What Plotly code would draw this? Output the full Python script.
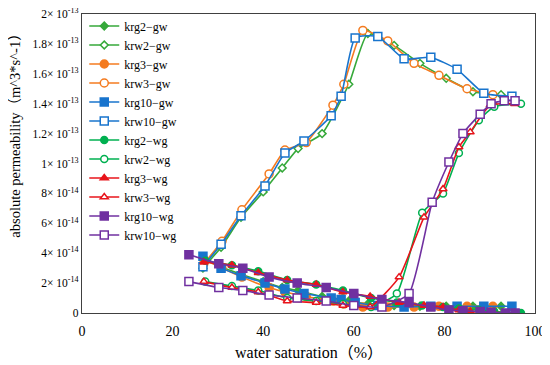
import plotly.graph_objects as go

# ---- data (water saturation %, permeability in units of 1e-13 m^3/s) ----
x_krg2_gw = [26.7, 30.7, 35.1, 40.0, 44.2, 47.7, 53.0, 58.9, 63.1, 68.9, 74.6, 80.4, 86.3, 92.5]
y_krg2_gw = [0.37, 0.31, 0.26, 0.21, 0.17, 0.15, 0.11, 0.08, 0.06, 0.05, 0.045, 0.045, 0.045, 0.045]
x_krw2_gw = [26.7, 30.7, 35.1, 40.0, 44.2, 47.7, 53.0, 58.9, 63.1, 68.9, 74.6, 80.4, 86.3, 92.5]
y_krw2_gw = [0.30, 0.44, 0.64, 0.81, 0.97, 1.10, 1.20, 1.53, 1.87, 1.79, 1.67, 1.57, 1.48, 1.46]

x_krg3_gw = [26.9, 30.9, 35.3, 41.3, 44.8, 49.5, 55.4, 57.8, 62.0, 67.5, 73.3, 78.8, 85.0, 90.7]
y_krg3_gw = [0.36, 0.30, 0.24, 0.17, 0.14, 0.11, 0.08, 0.06, 0.04, 0.04, 0.04, 0.045, 0.045, 0.045]
x_krw3_gw = [26.9, 30.9, 35.3, 41.3, 44.8, 49.5, 55.4, 57.8, 62.0, 67.5, 73.3, 78.8, 85.0, 90.7]
y_krw3_gw = [0.33, 0.48, 0.69, 0.93, 1.09, 1.14, 1.39, 1.53, 1.89, 1.82, 1.67, 1.59, 1.50, 1.46]

x_krg10_gw = [26.7, 30.7, 35.1, 40.4, 44.8, 49.0, 55.0, 57.2, 60.3, 65.3, 71.1, 77.0, 82.8, 88.7, 94.9]
y_krg10_gw = [0.38, 0.30, 0.25, 0.20, 0.16, 0.13, 0.10, 0.09, 0.07, 0.05, 0.04, 0.045, 0.045, 0.045, 0.045]
x_krw10_gw = [26.7, 30.7, 35.1, 40.4, 44.8, 49.0, 55.0, 57.2, 60.3, 65.3, 71.1, 77.0, 82.8, 88.7, 94.9]
y_krw10_gw = [0.31, 0.46, 0.65, 0.85, 1.07, 1.15, 1.32, 1.45, 1.84, 1.85, 1.70, 1.71, 1.63, 1.47, 1.45]

x_krg2_wg = [27.2, 33.1, 38.9, 45.3, 51.7, 57.6, 63.8, 69.5, 75.1, 79.7, 83.2, 87.6, 91.0, 96.9]
y_krg2_wg = [0.35, 0.32, 0.28, 0.22, 0.19, 0.15, 0.10, 0.07, 0.05, 0.04, 0.03, 0.02, 0.01, 0.0]
x_krw2_wg = [27.2, 33.1, 38.9, 45.3, 51.7, 57.6, 63.8, 69.5, 75.1, 79.7, 83.2, 87.6, 91.0, 96.9]
y_krw2_wg = [0.21, 0.18, 0.15, 0.10, 0.08, 0.06, 0.04, 0.13, 0.67, 0.80, 1.07, 1.29, 1.38, 1.40]

x_krg3_wg = [26.9, 33.1, 38.9, 45.3, 51.7, 57.6, 63.6, 70.0, 75.5, 79.7, 83.2, 85.7, 90.1, 95.5]
y_krg3_wg = [0.34, 0.32, 0.27, 0.22, 0.19, 0.14, 0.11, 0.07, 0.05, 0.04, 0.02, 0.01, 0.005, 0.0]
x_krw3_wg = [26.9, 33.1, 38.9, 45.3, 51.7, 57.6, 63.6, 70.0, 75.5, 79.7, 83.2, 85.7, 90.1, 95.5]
y_krw3_wg = [0.21, 0.17, 0.14, 0.08, 0.07, 0.05, 0.04, 0.24, 0.64, 0.83, 1.11, 1.21, 1.39, 1.40]

x_krg10_wg = [23.6, 30.2, 35.5, 41.3, 47.5, 53.9, 60.0, 66.2, 72.2, 77.0, 81.0, 84.1, 87.9, 90.3, 93.5, 95.6]
y_krg10_wg = [0.39, 0.33, 0.30, 0.24, 0.20, 0.17, 0.13, 0.09, 0.07, 0.04, 0.02, 0.015, 0.01, 0.005, 0.0, 0.0]
x_krw10_wg = [23.6, 30.2, 35.5, 41.3, 47.5, 53.9, 60.0, 66.2, 72.2, 77.3, 81.0, 84.1, 87.9, 90.3, 93.2, 95.6]
y_krw10_wg = [0.21, 0.17, 0.15, 0.12, 0.10, 0.08, 0.05, 0.04, 0.13, 0.74, 1.01, 1.20, 1.33, 1.40, 1.42, 1.42]

y_tickvals = [0, 0.2, 0.4, 0.6, 0.8, 1.0, 1.2, 1.4, 1.6, 1.8, 2.0]
y_ticktext = ["0", "2× 10<sup>-14</sup>", "4× 10<sup>-14</sup>", "6× 10<sup>-14</sup>",
              "8× 10<sup>-14</sup>", "1× 10<sup>-13</sup>", "1.2× 10<sup>-13</sup>",
              "1.4× 10<sup>-13</sup>", "1.6× 10<sup>-13</sup>", "1.8× 10<sup>-13</sup>",
              "2× 10<sup>-13</sup>"]
x_tickvals = [0, 20, 40, 60, 80, 100]

GREEN1 = "#36A93A"
GREEN2 = "#00B050"
ORANGE = "#F47B20"
BLUE = "#1874CD"
RED = "#E8141B"
PURPLE = "#7030A0"

series = [
    ("krg2−gw", x_krg2_gw, y_krg2_gw, GREEN1, "diamond", True, 6),
    ("krw2−gw", x_krw2_gw, y_krw2_gw, GREEN1, "diamond", False, 6),
    ("krg3−gw", x_krg3_gw, y_krg3_gw, ORANGE, "circle", True, 8),
    ("krw3−gw", x_krw3_gw, y_krw3_gw, ORANGE, "circle", False, 8),
    ("krg10−gw", x_krg10_gw, y_krg10_gw, BLUE, "square", True, 8),
    ("krw10−gw", x_krw10_gw, y_krw10_gw, BLUE, "square", False, 8),
    ("krg2−wg", x_krg2_wg, y_krg2_wg, GREEN2, "circle", True, 7),
    ("krw2−wg", x_krw2_wg, y_krw2_wg, GREEN2, "circle", False, 7),
    ("krg3−wg", x_krg3_wg, y_krg3_wg, RED, "triangle-up", True, 7),
    ("krw3−wg", x_krw3_wg, y_krw3_wg, RED, "triangle-up", False, 7),
    ("krg10−wg", x_krg10_wg, y_krg10_wg, PURPLE, "square", True, 8),
    ("krw10−wg", x_krw10_wg, y_krw10_wg, PURPLE, "square", False, 8),
]

fig = go.Figure()
for name, xs, ys, col, sym, filled, size in series:
    fig.add_trace(go.Scatter(
        x=xs, y=ys, name=name, mode="lines+markers",
        line=dict(color=col, width=1.6, shape="spline", smoothing=0.5),
        marker=dict(symbol=sym, size=size,
                    color=col if filled else "white",
                    line=dict(color=col, width=1.5)),
    ))

serif = "Liberation Serif, Times New Roman, Noto Sans CJK SC, serif"

# page has an 8px body margin, so the figure is 8px smaller than the window
fig.update_layout(
    width=542, height=357,
    margin=dict(l=74, r=15, t=5, b=52),
    paper_bgcolor="white", plot_bgcolor="white",
    font=dict(family=serif, color="black", size=13),
    showlegend=True,
    legend=dict(x=0.005, y=1.005, xanchor="left", yanchor="top",
                maxheight=400,
                bgcolor="rgba(0,0,0,0)", font=dict(family=serif, size=12),
                itemwidth=30, tracegroupgap=0),
    xaxis=dict(range=[0, 100], tickvals=x_tickvals, automargin=False,
               showgrid=False, zeroline=False, showline=True, mirror=True,
               linecolor="#404040", linewidth=1.3, ticks="",
               ticklabelstandoff=5, ticklabeloverflow="allow",
               tickfont=dict(size=14, family=serif)),
    yaxis=dict(range=[0, 2.0], tickvals=y_tickvals, ticktext=y_ticktext,
               automargin=False, ticklabeloverflow="allow",
               showgrid=False, zeroline=False, showline=True, mirror=True,
               linecolor="#404040", linewidth=1.3, ticks="",
               tickfont=dict(size=11.5, family=serif)),
    annotations=[
        dict(text="water saturation（%）", xref="paper", yref="paper",
             x=0.5, y=-40 / 300, xanchor="center", yanchor="middle",
             showarrow=False, font=dict(size=16, family=serif)),
        dict(text="absolute permeability（m^3*s^-1）", xref="paper", yref="paper",
             x=-67 / 453, y=0.603, xanchor="center", yanchor="middle",
             textangle=-90, showarrow=False, font=dict(size=14.5, family=serif)),
    ],
)

fig.write_html("out.html")
